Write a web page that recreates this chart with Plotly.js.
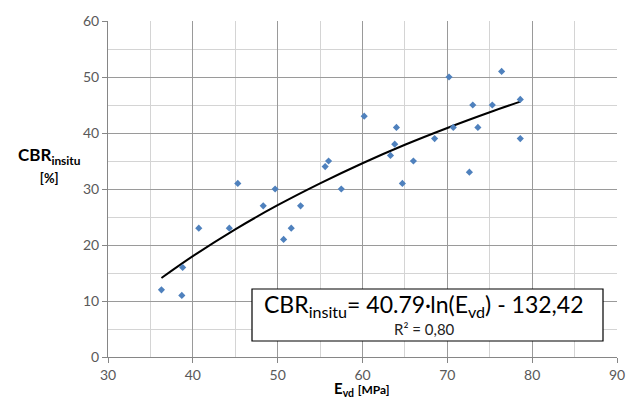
<!DOCTYPE html>
<html>
<head>
<meta charset="utf-8">
<script src="https://cdn.plot.ly/plotly-3.0.1.min.js"></script>
<style>html,body{margin:0;padding:0;background:#fff;}#chart{width:635px;height:398px;}</style>
</head>
<body>
<div id="chart"></div>
<script>
// Measured points (E_vd [MPa], CBR_insitu [%])
const evd = [36.3, 38.7, 38.8, 40.7, 44.3, 45.3, 48.3, 49.7, 50.7, 51.6, 52.7, 55.6, 56.0, 57.5, 60.2,
             63.3, 63.8, 64.0, 64.7, 66.0, 68.5, 70.2, 70.7, 72.6, 73.0, 73.6, 75.3, 76.4, 78.6, 78.6];
const cbr = [12, 11, 16, 23, 23, 31, 27, 30, 21, 23, 27, 34, 35, 30, 43,
             36, 38, 41, 31, 35, 39, 50, 41, 33, 45, 41, 45, 51, 46, 39];
// Trendline
const trendX = [36.3, 40, 45, 50, 55, 60, 65, 70, 75, 78.6];
const trendY = [14.1, 18.0, 22.8, 27.1, 31.0, 34.6, 37.9, 40.9, 43.7, 45.6];
const xTicks = [30, 40, 50, 60, 70, 80, 90];
const yTicks = [0, 10, 20, 30, 40, 50, 60];

const FONT = 'Lato, "Open Sans", sans-serif';
const traces = [
  {x: trendX, y: trendY, type: 'scatter', mode: 'lines', line: {color: '#000', width: 2, shape: 'spline'}, hoverinfo: 'skip'},
  {x: evd, y: cbr, type: 'scatter', mode: 'markers', marker: {symbol: 'diamond', size: 5.5, color: '#4F81BD'}}
];
const px = v => (v - 108) / 509;
const py = v => (357 - v) / 336;
const layout = {
  width: 635, height: 398,
  margin: {l: 108, r: 18, t: 21, b: 41},
  paper_bgcolor: '#fff', plot_bgcolor: '#fff',
  showlegend: false,
  font: {family: FONT, color: '#595959', size: 14},
  xaxis: {range: [30, 90], tickvals: xTicks, ticktext: xTicks.map(String), showgrid: true, gridcolor: '#9a9a9a', gridwidth: 1,
          minor: {dtick: 5, showgrid: true, gridcolor: '#d4d4d4', gridwidth: 1},
          showline: true, linecolor: '#868686', ticks: 'outside', ticklen: 5, tickcolor: '#868686',
          zeroline: false, tickfont: {size: 14, color: '#595959'}},
  yaxis: {range: [0, 60], tickvals: yTicks, ticktext: yTicks.map(String), showgrid: true, gridcolor: '#9a9a9a', gridwidth: 1,
          minor: {dtick: 5, showgrid: true, gridcolor: '#d4d4d4', gridwidth: 1},
          showline: true, linecolor: '#868686', ticks: 'outside', ticklen: 5, tickcolor: '#868686',
          zeroline: false, tickfont: {size: 14, color: '#595959'}},
  shapes: [
    {type: 'rect', xref: 'paper', yref: 'paper', x0: px(252), x1: px(603),
     y0: py(341), y1: py(289), line: {color: '#000', width: 1.2}, fillcolor: '#fff', layer: 'above'}
  ],
  annotations: [
    {xref: 'paper', yref: 'paper', x: px(424), y: py(305), xanchor: 'center', yanchor: 'middle', showarrow: false,
     text: 'CBR<sub>insitu</sub>= 40.79·ln(E<sub>vd</sub>) - 132,42', font: {family: FONT, size: 23, color: '#000'}},
    {xref: 'paper', yref: 'paper', x: px(424), y: py(329), xanchor: 'center', yanchor: 'middle', showarrow: false,
     text: 'R² = 0,80', font: {family: FONT, size: 15, color: '#222'}},
    {xref: 'paper', yref: 'paper', x: px(49), y: py(165), xanchor: 'center', yanchor: 'middle', showarrow: false, align: 'center',
     text: '<b>CBR<sub>insitu</sub></b><br><b><span style="font-size:13px">[%]</span></b>', font: {family: FONT, size: 17, color: '#000'}},
    {xref: 'paper', yref: 'paper', x: px(361), y: py(389), xanchor: 'center', yanchor: 'middle', showarrow: false,
     text: '<b>E<sub>vd</sub> <span style="font-size:12px">[MPa]</span></b>', font: {family: FONT, size: 15, color: '#000'}}
  ]
};
Plotly.newPlot('chart', traces, layout, {displayModeBar: false, staticPlot: true});
</script>
</body>
</html>
